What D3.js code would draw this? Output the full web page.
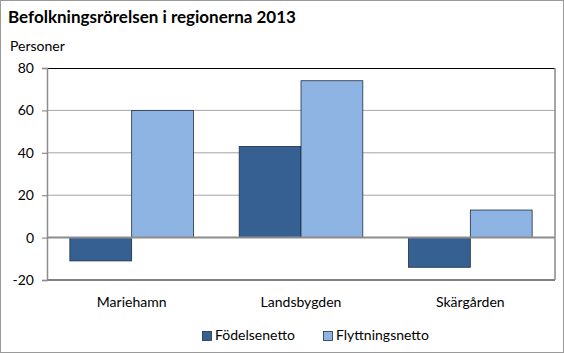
<!DOCTYPE html>
<html>
<head>
<meta charset="utf-8">
<script src="https://cdn.jsdelivr.net/npm/d3@7"></script>
<style>
  body { margin: 0; background: #fff; }
  svg { display: block; font-family: Lato, "Open Sans", sans-serif; }
</style>
</head>
<body>
<div id="chart"></div>
<script>
// data
const regions = ["Mariehamn", "Landsbygden", "Skärgården"];
const seriesNames = ["Födelsenetto", "Flyttningsnetto"];
const fodelsenetto = [-11, 43, -14];
const flyttningsnetto = [60, 74, 13];
const yTicks = [-20, 0, 20, 40, 60, 80];
const colors = ["#376092", "#8db4e2"];

const W = 564, H = 353;
const margin = { top: 68, right: 9, bottom: 73, left: 47 };
const width = W - margin.left - margin.right;
const height = H - margin.top - margin.bottom;

const svg = d3.select("#chart").append("svg")
    .attr("width", W)
    .attr("height", H);

// outer frame
svg.append("rect")
    .attr("x", 0.5).attr("y", 0.5)
    .attr("width", W - 1).attr("height", H - 1)
    .attr("fill", "none")
    .attr("stroke", "#9a9a9a");

svg.append("text")
    .attr("x", 8).attr("y", 23)
    .attr("font-size", "17px")
    .attr("font-weight", "bold")
    .attr("fill", "#000")
    .text("Befolkningsrörelsen i regionerna 2013");

svg.append("text")
    .attr("x", 10).attr("y", 51)
    .attr("font-size", "14px")
    .attr("fill", "#000")
    .text("Personer");

const g = svg.append("g")
    .attr("transform", `translate(${margin.left},${margin.top})`);

// scales
const x0 = d3.scaleBand()
    .domain(regions)
    .range([0, width])
    .paddingInner(0.27)
    .paddingOuter(0.135);

const x1 = d3.scaleBand()
    .domain(seriesNames)
    .range([0, x0.bandwidth()]);

const y = d3.scaleLinear()
    .domain([-20, 80])
    .range([height, 0]);

// gridlines
g.selectAll(".grid")
    .data(yTicks.filter(d => d !== 0 && d !== -20 && d !== 80))
    .enter().append("line")
    .attr("x1", 0).attr("x2", width)
    .attr("y1", d => y(d)).attr("y2", d => y(d))
    .attr("stroke", "#a6a6a6")
    .attr("stroke-width", 1);

// plot border (top, bottom black; right gray)
g.append("line").attr("x1", 0).attr("x2", width).attr("y1", 0.5).attr("y2", 0.5)
    .attr("stroke", "#000").attr("stroke-width", 1.2);
g.append("line").attr("x1", 0).attr("x2", width).attr("y1", height).attr("y2", height)
    .attr("stroke", "#000").attr("stroke-width", 1.2);
g.append("line").attr("x1", width).attr("x2", width).attr("y1", 0).attr("y2", height)
    .attr("stroke", "#888").attr("stroke-width", 1.5);

// bars
const rows = regions.map((r, i) => ({ region: r, values: [fodelsenetto[i], flyttningsnetto[i]] }));

const groups = g.selectAll(".group")
    .data(rows)
    .enter().append("g")
    .attr("transform", d => `translate(${x0(d.region)},0)`);

groups.selectAll("rect")
    .data(d => d.values.map((v, j) => ({ key: seriesNames[j], value: v, j })))
    .enter().append("rect")
    .attr("x", d => x1(d.key))
    .attr("width", x1.bandwidth())
    .attr("y", d => y(Math.max(0, d.value)))
    .attr("height", d => Math.abs(y(d.value) - y(0)))
    .attr("fill", d => colors[d.j])
    .attr("stroke", "#1f2f44")
    .attr("stroke-width", 0.8);

// zero line
g.append("line")
    .attr("x1", 0).attr("x2", width)
    .attr("y1", y(0)).attr("y2", y(0))
    .attr("stroke", "#8c8c8c")
    .attr("stroke-width", 2);

// y axis
const yAxis = g.append("g")
    .call(d3.axisLeft(y).tickValues(yTicks).tickSize(5).tickPadding(8).tickFormat(d => String(d)));
yAxis.select(".domain").attr("stroke", "#8c8c8c").attr("stroke-width", 1.5);
yAxis.selectAll(".tick line").attr("stroke", "#8c8c8c").attr("stroke-width", 1.2);
yAxis.selectAll(".tick text")
    .attr("font-size", "14px")
    .attr("font-family", "Lato, Open Sans, sans-serif")
    .attr("fill", "#000");

// category labels
g.selectAll(".cat")
    .data(regions)
    .enter().append("text")
    .attr("x", d => x0(d) + x0.bandwidth() / 2)
    .attr("y", height + 27)
    .attr("text-anchor", "middle")
    .attr("font-size", "14px")
    .attr("fill", "#000")
    .text(d => d);

// legend
const legend = svg.append("g")
    .attr("transform", "translate(202,331)");
const legendX = [0, 121];
seriesNames.forEach((s, j) => {
    const lg = legend.append("g").attr("transform", `translate(${legendX[j]},0)`);
    lg.append("rect")
        .attr("x", 0.5).attr("y", 0.5)
        .attr("width", 9).attr("height", 9)
        .attr("fill", colors[j])
        .attr("stroke", "#1f2f44")
        .attr("stroke-width", 0.8);
    lg.append("text")
        .attr("x", 13).attr("y", 9)
        .attr("font-size", "14px")
        .attr("fill", "#000")
        .text(s);
});
</script>
</body>
</html>
